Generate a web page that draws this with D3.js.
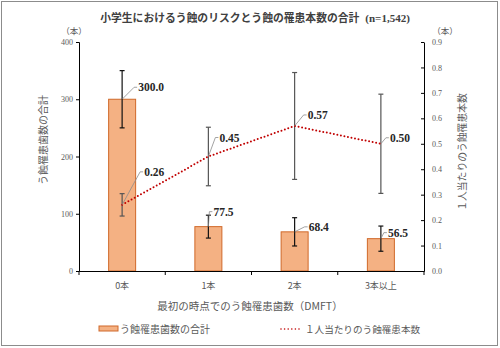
<!DOCTYPE html>
<html>
<head>
<meta charset="utf-8">
<script src="https://cdn.jsdelivr.net/npm/d3@7"></script>
<style>
  body { margin: 0; background: #fff; }
  svg { display: block; }
  .jp { font-family: "Noto Sans CJK JP", sans-serif; }
  .num { font-family: "Liberation Serif", "Times New Roman", serif; }
</style>
</head>
<body>
<div id="chart"></div>
<script>
const categories = ['0本', '1本', '2本', '3本以上'];
const totalTeeth = [300.0, 77.5, 68.4, 56.5];
const totalErr = [50, 20, 24.7, 22];
const perChild = [0.26, 0.45, 0.57, 0.50];
const perChildErr = [0.044, 0.115, 0.21, 0.195];
const leftTicks = [0, 100, 200, 300, 400];
const rightTicks = [0, 0.1, 0.2, 0.3, 0.4, 0.5, 0.6, 0.7, 0.8, 0.9];

const W = 500, H = 348;
const m = { left: 79, right: 76, top: 42, bottom: 77 };

const svg = d3.select('#chart').append('svg')
  .attr('width', W)
  .attr('height', H);

svg.append('rect')
  .attr('x', 1.5).attr('y', 1.5)
  .attr('width', 496).attr('height', 344)
  .attr('fill', '#fff')
  .attr('stroke', '#8c8c8c');

const x = d3.scaleBand()
  .domain(categories)
  .range([m.left, W - m.right]);

const yL = d3.scaleLinear().domain([0, 400]).range([H - m.bottom, m.top]);
const yR = d3.scaleLinear().domain([0, 0.9]).range([H - m.bottom, m.top]);

const cx = c => x(c) + x.bandwidth() / 2;
const barW = 27;

// bars
svg.append('g').selectAll('rect')
  .data(totalTeeth)
  .join('rect')
  .attr('x', (d, i) => cx(categories[i]) - barW / 2)
  .attr('y', d => yL(d))
  .attr('width', barW)
  .attr('height', d => yL(0) - yL(d))
  .attr('fill', '#f4b183')
  .attr('stroke', '#d0692a')
  .attr('stroke-width', 1);

// error bars
function errorBars(vals, errs, scale, color) {
  const g = svg.append('g').attr('stroke', color).attr('stroke-width', 1.2);
  vals.forEach((v, i) => {
    const px = cx(categories[i]);
    const top = scale(v + errs[i]), bot = scale(v - errs[i]);
    g.append('line').attr('x1', px).attr('x2', px).attr('y1', top).attr('y2', bot);
    g.append('line').attr('x1', px - 2.5).attr('x2', px + 2.5).attr('y1', top).attr('y2', top);
    g.append('line').attr('x1', px - 2.5).attr('x2', px + 2.5).attr('y1', bot).attr('y2', bot);
  });
}
errorBars(totalTeeth, totalErr, yL, '#111');
errorBars(perChild, perChildErr, yR, '#555');

// dotted line for per-child average
const line = d3.line()
  .x((d, i) => cx(categories[i]))
  .y(d => yR(d));

svg.append('path')
  .datum(perChild)
  .attr('d', line)
  .attr('fill', 'none')
  .attr('stroke', '#c00000')
  .attr('stroke-width', 2)
  .attr('stroke-dasharray', '0 3.6')
  .attr('stroke-linecap', 'round');

// axes
const axL = svg.append('g')
  .attr('transform', `translate(${m.left},0)`)
  .call(d3.axisLeft(yL).tickValues(leftTicks).tickSize(3).tickFormat(d3.format('d')));
const axR = svg.append('g')
  .attr('transform', `translate(${W - m.right},0)`)
  .call(d3.axisRight(yR).tickValues(rightTicks).tickSize(0).tickPadding(8).tickFormat(d3.format('.1f')));
axR.selectAll('.tick').append('line').attr('x1', -3).attr('x2', 0).attr('stroke', '#000');

const axX = svg.append('g')
  .attr('transform', `translate(0,${H - m.bottom})`)
  .call(d3.axisBottom(x).tickSize(0).tickPadding(12));
// category boundary ticks
const bounds = categories.map(c => x(c)).concat([W - m.right]);
axX.selectAll('.bound')
  .data(bounds)
  .join('line')
  .attr('class', 'bound')
  .attr('x1', d => d).attr('x2', d => d)
  .attr('y1', 0).attr('y2', 4)
  .attr('stroke', '#000');

[axL, axR, axX].forEach(a => {
  a.select('.domain').attr('stroke', '#000');
  a.selectAll('.tick line').attr('stroke', '#000');
});
[axL, axR].forEach(a => {
  a.selectAll('text')
    .attr('class', 'num')
    .attr('font-size', 8)
    .attr('fill', '#595959');
});
axX.selectAll('text')
  .attr('class', 'jp')
  .attr('font-size', 9)
  .attr('fill', '#595959');

// value labels with leader lines
const labels = [
  { v: totalTeeth[0], i: 0, s: yL, t: '300.0', dx: 15, dy: -12 },
  { v: totalTeeth[1], i: 1, s: yL, t: '77.5', dx: 4, dy: -15 },
  { v: totalTeeth[2], i: 2, s: yL, t: '68.4', dx: 13, dy: -5 },
  { v: totalTeeth[3], i: 3, s: yL, t: '56.5', dx: 6, dy: -6 },
  { v: perChild[0], i: 0, s: yR, t: '0.26', dx: 21, dy: -33 },
  { v: perChild[1], i: 1, s: yR, t: '0.45', dx: 10, dy: -19 },
  { v: perChild[2], i: 2, s: yR, t: '0.57', dx: 12, dy: -11 },
  { v: perChild[3], i: 3, s: yR, t: '0.50', dx: 8, dy: -6 }
];
const lg = svg.append('g');
labels.forEach(l => {
  const px = cx(categories[l.i]), py = l.s(l.v);
  const lx = px + l.dx, ly = py + l.dy;
  lg.append('polyline')
    .attr('points', `${px},${py} ${lx - 3},${ly} ${lx},${ly}`)
    .attr('fill', 'none')
    .attr('stroke', '#8c8c8c')
    .attr('stroke-width', 0.8);
  lg.append('text')
    .attr('class', 'num')
    .attr('x', lx + 1)
    .attr('y', ly + 4)
    .attr('font-size', 11.5)
    .attr('font-weight', 'bold')
    .attr('fill', '#262626')
    .text(l.t);
});

// title
const title = svg.append('text')
  .attr('x', 255).attr('y', 22)
  .attr('text-anchor', 'middle')
  .attr('fill', '#404040')
  .attr('font-weight', 'bold');
title.append('tspan').attr('class', 'jp').attr('font-size', 10.8)
  .text('小学生におけるう蝕のリスクとう蝕の罹患本数の合計');
title.append('tspan').attr('class', 'num').attr('font-size', 11)
  .attr('dx', 6).text('(n=1,542)');

// unit labels
svg.append('text').attr('class', 'jp')
  .attr('x', 74).attr('y', 34).attr('text-anchor', 'middle')
  .attr('font-size', 8.5).attr('fill', '#595959').text('（本）');
svg.append('text').attr('class', 'jp')
  .attr('x', 445).attr('y', 34).attr('text-anchor', 'middle')
  .attr('font-size', 8.5).attr('fill', '#595959').text('（本）');

// axis titles
svg.append('text').attr('class', 'jp')
  .attr('transform', 'translate(47,140) rotate(-90)')
  .attr('text-anchor', 'middle')
  .attr('font-size', 10).attr('fill', '#595959')
  .text('う蝕罹患歯数の合計');
svg.append('text').attr('class', 'jp')
  .attr('transform', 'translate(466,152) rotate(-90)')
  .attr('text-anchor', 'middle')
  .attr('font-size', 9.8).attr('fill', '#595959')
  .text('１人当たりのう蝕罹患本数');
svg.append('text').attr('class', 'jp')
  .attr('x', 250).attr('y', 310)
  .attr('text-anchor', 'middle')
  .attr('font-size', 10.5).attr('fill', '#595959')
  .text('最初の時点でのう蝕罹患歯数（DMFT）');

// legend
const leg = svg.append('g');
leg.append('rect')
  .attr('x', 99).attr('y', 326).attr('width', 19).attr('height', 5)
  .attr('fill', '#f4b183').attr('stroke', '#d0692a');
leg.append('text').attr('class', 'jp')
  .attr('x', 120).attr('y', 332.5)
  .attr('font-size', 10).attr('fill', '#595959')
  .text('う蝕罹患歯数の合計');
leg.append('line')
  .attr('x1', 281).attr('x2', 299).attr('y1', 329).attr('y2', 329)
  .attr('stroke', '#c00000').attr('stroke-width', 1.6)
  .attr('stroke-dasharray', '0 3.6').attr('stroke-linecap', 'round');
leg.append('text').attr('class', 'jp')
  .attr('x', 305).attr('y', 332.5)
  .attr('font-size', 9.6).attr('fill', '#595959')
  .text('１人当たりのう蝕罹患本数');
</script>
</body>
</html>
